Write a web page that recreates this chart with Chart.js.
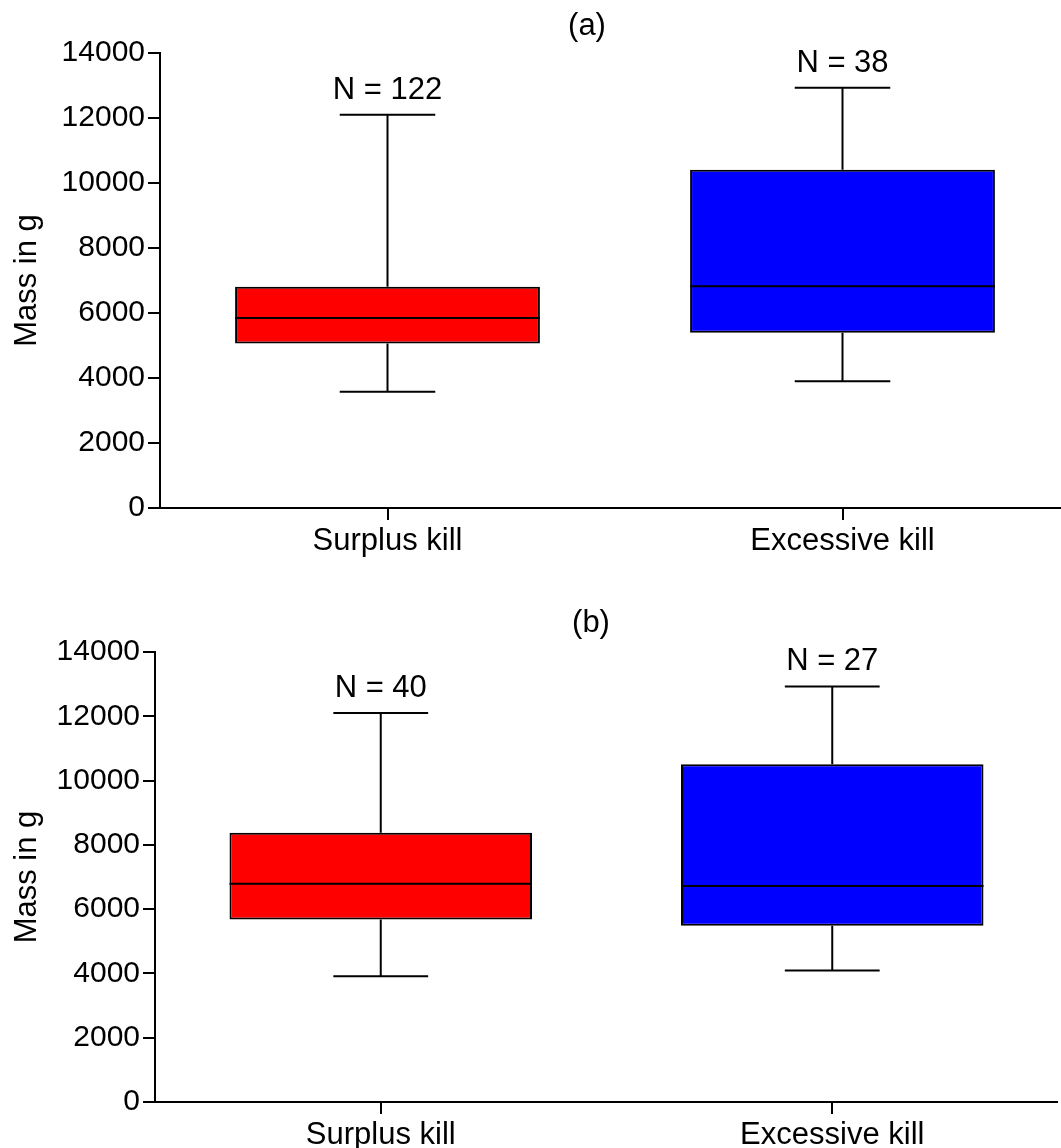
<!DOCTYPE html>
<html>
<head>
<meta charset="utf-8">
<script src="https://cdn.jsdelivr.net/npm/chart.js@4.4.0/dist/chart.umd.min.js"></script>
<style>
  body { margin: 0; background: #fff; overflow: hidden; }
  canvas { position: absolute; left: 0; }
  #chartA { top: 0; }
  #chartB { top: 598px; }
</style>
</head>
<body>
<canvas id="chartA" width="1070" height="558"></canvas>
<canvas id="chartB" width="1058" height="550"></canvas>
<script>
const categories = ["Surplus kill", "Excessive kill"];
const boxColors = ["#ff0000", "#0000ff"];

// panel (a)
const lowA = [3580, 3900];
const q1A = [5060, 5390];
const medA = [5850, 6820];
const q3A = [6810, 10410];
const highA = [12100, 12930];
const nA = [122, 38];

// panel (b)
const lowB = [3910, 4090];
const q1B = [5680, 5480];
const medB = [6790, 6720];
const q3B = [8380, 10510];
const highB = [12100, 12930];
const nB = [40, 27];

Chart.defaults.font.family = "'Liberation Sans', Arial, sans-serif";
Chart.defaults.color = "#000";

// whiskers, median lines, N labels and panel letter
const boxWhisker = {
  id: "boxWhisker",
  afterDatasetsDraw(chart, args, opts) {
    const { ctx, scales: { x, y } } = chart;
    const meta = chart.getDatasetMeta(0);
    const catW = x.width / categories.length;
    const capHalf = catW * 0.105;
    ctx.save();
    ctx.strokeStyle = "#000";
    ctx.lineWidth = 2;
    categories.forEach((c, i) => {
      const cx = x.getPixelForValue(i);
      const bar = meta.data[i];
      ctx.beginPath();
      // upper whisker
      ctx.moveTo(cx, y.getPixelForValue(opts.q3[i]));
      ctx.lineTo(cx, y.getPixelForValue(opts.high[i]));
      ctx.moveTo(cx - capHalf, y.getPixelForValue(opts.high[i]));
      ctx.lineTo(cx + capHalf, y.getPixelForValue(opts.high[i]));
      // lower whisker
      ctx.moveTo(cx, y.getPixelForValue(opts.q1[i]));
      ctx.lineTo(cx, y.getPixelForValue(opts.low[i]));
      ctx.moveTo(cx - capHalf, y.getPixelForValue(opts.low[i]));
      ctx.lineTo(cx + capHalf, y.getPixelForValue(opts.low[i]));
      // median
      ctx.moveTo(bar.x - bar.width / 2, y.getPixelForValue(opts.med[i]));
      ctx.lineTo(bar.x + bar.width / 2, y.getPixelForValue(opts.med[i]));
      ctx.stroke();

      ctx.fillStyle = "#000";
      ctx.font = "31px 'Liberation Sans', Arial, sans-serif";
      ctx.textAlign = "center";
      ctx.textBaseline = "alphabetic";
      ctx.fillText("N = " + opts.n[i], cx, y.getPixelForValue(opts.high[i]) - 16);
    });
    ctx.textBaseline = "middle";
    ctx.fillText(opts.letter, opts.letterX, opts.letterY);
    ctx.restore();
  }
};

function makeChart(id, low, q1, med, q3, high, n, letter, letterX, letterY, yWidth, xHeight, padTop) {
  return new Chart(document.getElementById(id), {
    type: "bar",
    data: {
      labels: categories,
      datasets: [{
        data: categories.map((c, i) => [q1[i], q3[i]]),
        backgroundColor: boxColors,
        borderColor: "#000",
        borderWidth: 2,
        borderSkipped: false,
        barPercentage: 0.67,
        categoryPercentage: 1
      }]
    },
    options: {
      responsive: false,
      animation: false,
      devicePixelRatio: 1,
      layout: { padding: { left: 9, top: padTop, right: 0, bottom: 0 } },
      plugins: {
        legend: { display: false },
        tooltip: { enabled: false },
        boxWhisker: { low, q1, med, q3, high, n, letter, letterX, letterY }
      },
      scales: {
        x: {
          border: { display: true, color: "#000", width: 2 },
          grid: {
            offset: false,
            drawOnChartArea: false,
            drawTicks: true,
            tickLength: 12,
            color: "#000",
            lineWidth: 2
          },
          ticks: { font: { size: 31 }, padding: 3, color: "#000" },
          afterFit(scale) { scale.height = xHeight; }
        },
        y: {
          min: 0,
          max: 14000,
          border: { display: true, color: "#000", width: 2 },
          grid: {
            drawOnChartArea: false,
            drawTicks: true,
            tickLength: 12,
            color: "#000",
            lineWidth: 2
          },
          ticks: {
            stepSize: 2000,
            font: { size: 30 },
            padding: 3,
            color: "#000",
            callback: (v) => String(v)
          },
          title: {
            display: true,
            text: "Mass in g",
            font: { size: 31 },
            padding: 0,
            color: "#000"
          },
          afterFit(scale) { scale.width = yWidth; }
        }
      }
    },
    plugins: [boxWhisker]
  });
}

makeChart("chartA", lowA, q1A, medA, q3A, highA, nA, "(a)", 587, 26, 151, 50, 53);
makeChart("chartB", lowB, q1B, medB, q3B, highB, nB, "(b)", 591, 25, 146, 46, 54);
</script>
</body>
</html>
